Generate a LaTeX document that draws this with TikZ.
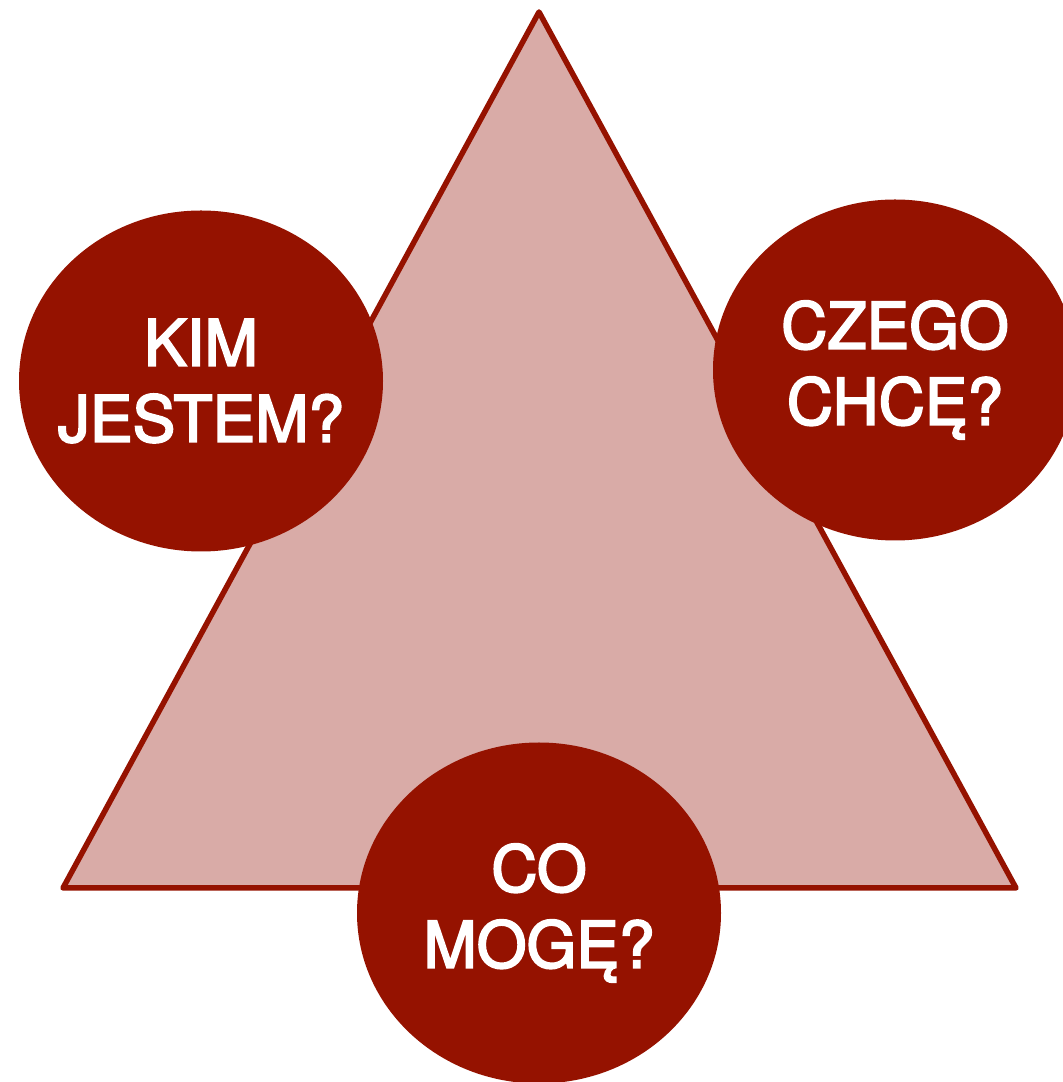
\documentclass[tikz,border=0pt]{standalone}
\usepackage{xcolor}
\usepackage{fontspec}
\setmainfont{TeX Gyre Heros}
\newfontfamily\napisFont[FakeBold=3]{TeX Gyre Heros}
\usetikzlibrary{shapes.geometric}

\definecolor{ciemnyCzerwony}{RGB}{149,18,0}
\definecolor{jasnyRoz}{RGB}{217,171,167}

\begin{document}
\begin{tikzpicture}
    % 结点样式名称/.style={形状,填充色,大小}
    [x=1pt,y=1pt,
    PytNode/.style={ellipse,fill=ciemnyCzerwony,minimum width=364pt,minimum height=341pt,inner sep=0pt},
    PytText/.style={align=center,text=white,font=\napisFont\fontsize{64}{76}\selectfont}]
    
    % 画布大小与裁剪
    \useasboundingbox (0,0) rectangle (1063,1082);
    \clip (0,0) rectangle (1063,1082);
    
    % 三角形的三个顶点
    \coordinate (szczyt) at (539,1070);
    \coordinate (lewy) at (63,194);
    \coordinate (prawy) at (1016,194);
    
    % 画三角形,粉色填充,深红色边框
    \filldraw[fill=jasnyRoz,draw=ciemnyCzerwony,line width=5.5pt,line join=round]
        (szczyt)--(lewy)--(prawy)--cycle;
    
    % 三个椭圆结点
    % \node[结点样式] (结点名称) at (结点坐标) {}
    \node[PytNode] (kim) at (201,701) {};
    \node[PytNode] (czego) at (895,712) {};
    \node[PytNode] (co) at (539,169) {};
    
    % 添加椭圆中的文字
    \node[PytText] (kimText) at (kim.center) {KIM\\JESTEM?};
    \node[PytText] (czegoText) at (czego.center) {CZEGO\\CHCĘ?};
    \node[PytText] (coText) at (co.center) {CO\\MOGĘ?};
    
\end{tikzpicture}
\end{document}
